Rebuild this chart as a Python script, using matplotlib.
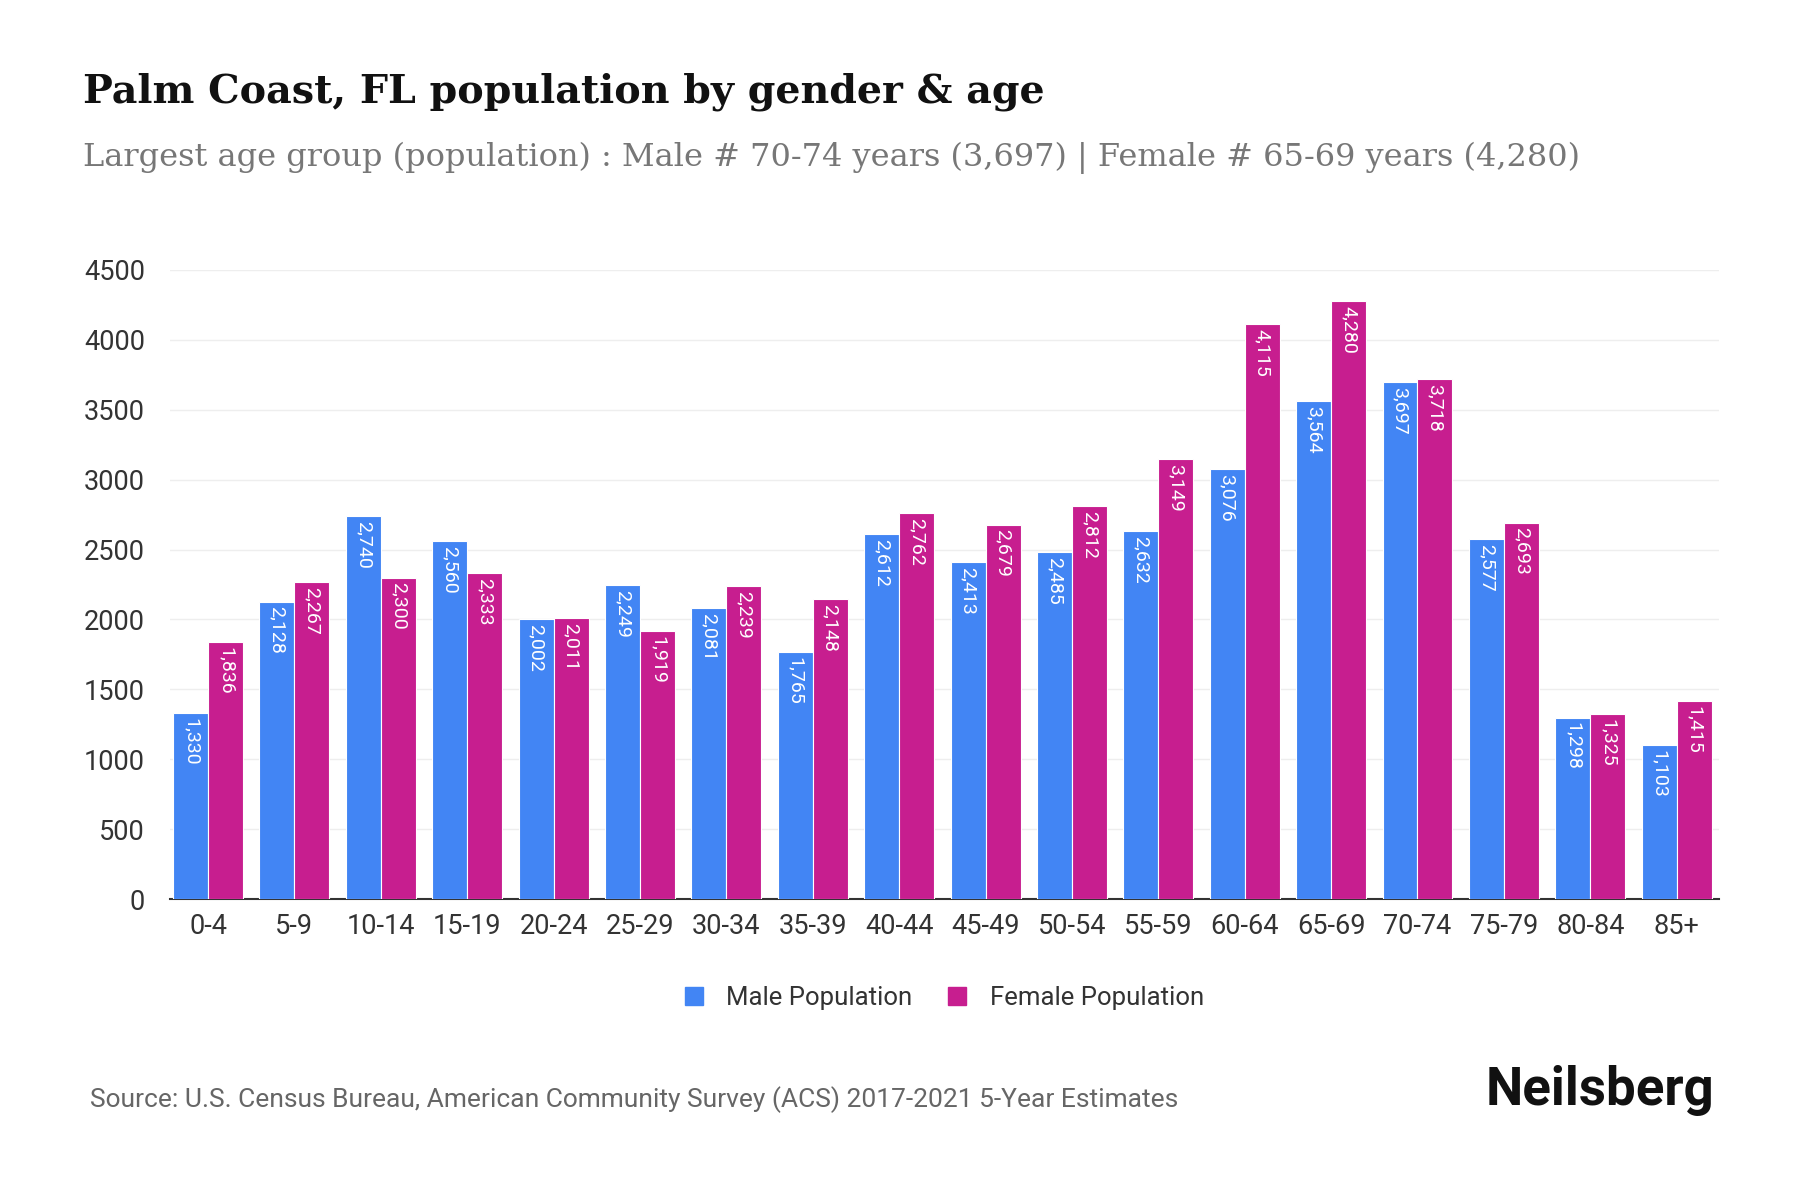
import numpy as np
import matplotlib
matplotlib.use("Agg")
import matplotlib.pyplot as plt
from matplotlib.patches import Patch

age_groups = ["0-4", "5-9", "10-14", "15-19", "20-24", "25-29", "30-34", "35-39",
              "40-44", "45-49", "50-54", "55-59", "60-64", "65-69", "70-74",
              "75-79", "80-84", "85+"]
male = [1330, 2128, 2740, 2560, 2002, 2249, 2081, 1765, 2612, 2413, 2485,
        2632, 3076, 3564, 3697, 2577, 1298, 1103]
female = [1836, 2267, 2300, 2333, 2011, 1919, 2239, 2148, 2762, 2679, 2812,
          3149, 4115, 4280, 3718, 2693, 1325, 1415]
y_ticks = [0, 500, 1000, 1500, 2000, 2500, 3000, 3500, 4000, 4500]

male_color = "#4285F4"
female_color = "#C71E8F"

plt.rcParams["font.family"] = ["Roboto", "DejaVu Sans"]

fig = plt.figure(figsize=(18, 12), dpi=100)
ax_left, ax_right = 170 / 1800, 1719 / 1800
ax = fig.add_axes([ax_left, 1 - 899 / 1200, ax_right - ax_left, (899 - 270) / 1200])

x = np.arange(len(age_groups))
w = 0.405
bm = ax.bar(x - w / 2, male, w, color=male_color, edgecolor="white", linewidth=0.8, zorder=3)
bf = ax.bar(x + w / 2, female, w, color=female_color, edgecolor="white", linewidth=0.8, zorder=3)

for bars, vals in ((bm, male), (bf, female)):
    for b, v in zip(bars, vals):
        ax.text(b.get_x() + b.get_width() / 2, v - 35, f"{v:,}", rotation=-90,
                ha="center", va="top", color="white", fontsize=14, zorder=4)

ax.set_xlim(-0.44, len(age_groups) - 0.51)
ax.set_ylim(0, 4500)
ax.set_yticks(y_ticks)
ax.set_xticks(x)
ax.set_xticklabels(age_groups)
ax.tick_params(axis="both", length=0, labelsize=19.5, colors="#333333")
ax.tick_params(axis="x", pad=10)
ax.tick_params(axis="y", pad=18)
ax.grid(axis="y", color="#eeeeee", linewidth=1, zorder=0)
for s in ["top", "right", "left"]:
    ax.spines[s].set_visible(False)
ax.spines["bottom"].set_color("#333333")
ax.spines["bottom"].set_linewidth(1.5)

handles = [Patch(color=male_color, label="Male Population"),
           Patch(color=female_color, label="Female Population")]
fig.legend(handles=handles, loc="center", bbox_to_anchor=((ax_left + ax_right) / 2, 1 - 998 / 1200),
           ncol=2, frameon=False, handlelength=0.7, handleheight=0.7,
           handletextpad=0.9, columnspacing=1.4, labelcolor="#333333", fontsize=18.5)

fig.text(83 / 1800, 1 - 92 / 1200, "Palm Coast, FL population by gender & age",
         fontsize=28.5, fontweight="bold", family=["DejaVu Serif"],
         va="center", ha="left", color="#111111")
fig.text(83 / 1800, 1 - 158 / 1200,
         "Largest age group (population) : Male # 70-74 years (3,697) | Female # 65-69 years (4,280)",
         fontsize=23, family=["DejaVu Serif"],
         va="center", ha="left", color="#777777")
fig.text(90 / 1800, 1 - 1100 / 1200,
         "Source: U.S. Census Bureau, American Community Survey (ACS) 2017-2021 5-Year Estimates",
         fontsize=19, va="center", ha="left", color="#666666")
fig.text(1714 / 1800, 1 - 1091 / 1200, "Neilsberg", fontsize=38, fontweight="bold",
         family=["Roboto", "DejaVu Sans"], va="center", ha="right", color="#111111")

fig.savefig("out.png", dpi=100, facecolor="white")
